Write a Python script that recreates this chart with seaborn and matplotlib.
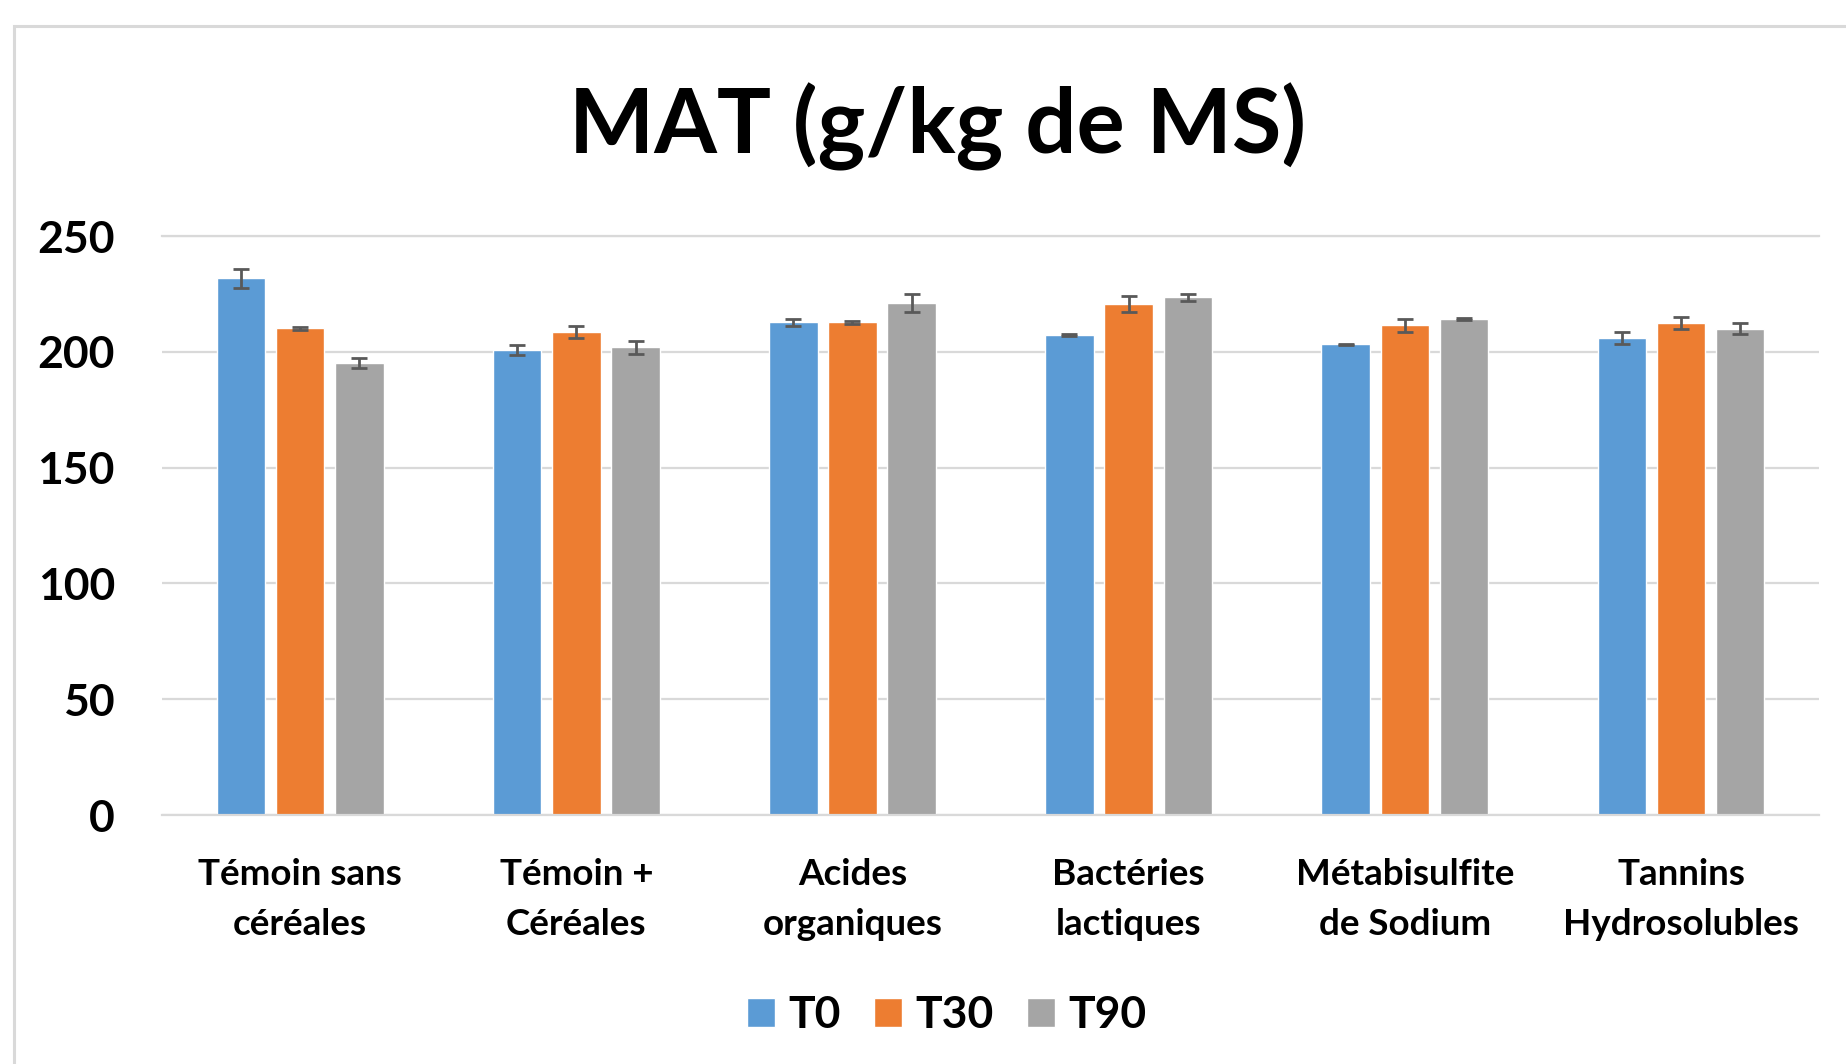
import numpy as np
import pandas as pd
import matplotlib
matplotlib.use("Agg")
import matplotlib.pyplot as plt
from matplotlib.patches import Rectangle
import seaborn as sns

# données
categories = ["Témoin sans\ncéréales", "Témoin +\nCéréales", "Acides\norganiques",
              "Bactéries\nlactiques", "Métabisulfite\nde Sodium", "Tannins\nHydrosolubles"]
periods = ["T0", "T30", "T90"]
t0 = [231.8, 200.7, 212.8, 207.3, 203.3, 206.0]
t30 = [210.2, 208.6, 212.8, 220.8, 211.5, 212.6]
t90 = [195.3, 202.0, 221.0, 223.6, 214.1, 210.1]
err_t0 = [4.0, 2.1, 1.6, 0.5, 0.3, 2.7]
err_t30 = [0.5, 2.7, 0.7, 3.4, 2.7, 2.7]
err_t90 = [2.2, 2.9, 3.9, 1.4, 0.5, 2.2]
yticks = [0, 50, 100, 150, 200, 250]

colors = {"T0": "#5B9BD5", "T30": "#ED7D31", "T90": "#A5A5A5"}
grid_color = "#D9D9D9"

df = pd.DataFrame({
    "Traitement": categories * 3,
    "Temps": [p for p in periods for _ in categories],
    "MAT": t0 + t30 + t90,
})
errs = {"T0": err_t0, "T30": err_t30, "T90": err_t90}

sns.set_style("white")
plt.rcParams['font.family'] = ['Lato', 'DejaVu Sans']
plt.rcParams['font.weight'] = 'bold'
plt.rcParams['text.color'] = 'black'
plt.rcParams['xtick.color'] = 'black'
plt.rcParams['ytick.color'] = 'black'

fig = plt.figure(figsize=(18.46, 10.64), dpi=100)
ax = fig.add_axes([0.0878, 0.234, 0.8976, 0.544])

sns.barplot(data=df, x="Traitement", y="MAT", hue="Temps", order=categories,
            hue_order=periods, palette=colors, width=0.643, gap=0.18,
            saturation=1, errorbar=None, ax=ax, zorder=2)

# barres d'erreur sur les positions des barres dessinées par seaborn
for cont, p in zip(ax.containers, periods):
    xs = [b.get_x() + b.get_width() / 2 for b in cont.patches]
    hs = [b.get_height() for b in cont.patches]
    ax.errorbar(xs, hs, yerr=errs[p], fmt="none", ecolor="#595959",
                elinewidth=2, capsize=6, capthick=2, zorder=3)

ax.set_ylim(0, 250)
ax.set_xlim(-0.5, len(categories) - 0.5)
ax.set_yticks(yticks)
ax.yaxis.grid(True, color=grid_color, linewidth=1.6, zorder=0)
ax.set_axisbelow(True)
for side in ["left", "right"]:
    ax.spines[side].set_visible(False)
for side in ["top", "bottom"]:
    ax.spines[side].set_color(grid_color)
    ax.spines[side].set_linewidth(1.6)
ax.tick_params(axis="both", length=0)
ax.tick_params(axis="y", labelsize=32, pad=34)
ax.tick_params(axis="x", labelsize=26.5, pad=31)
for lab in ax.get_yticklabels():
    lab.set_fontweight("bold")
for lab in ax.get_xticklabels():
    lab.set_fontweight("bold")
    lab.set_linespacing(1.62)
ax.set_xlabel("")
ax.set_ylabel("")

handles, labels = ax.get_legend_handles_labels()
ax.get_legend().remove()
fig.legend(handles, labels, loc="center", bbox_to_anchor=(0.513, 0.046), ncol=3,
           frameon=False, prop={"size": 32, "weight": "bold"},
           handlelength=0.63, handleheight=0.63, handletextpad=0.3,
           columnspacing=0.75)

fig.text(0.508, 0.856, "MAT (g/kg de MS)", ha="center", va="baseline",
         fontsize=65, fontweight="bold")

# cadre gris autour du graphique
fig.patches.append(Rectangle((14 / 1846, -0.05), 1.1, 1 - 26 / 1064 + 0.05,
                             transform=fig.transFigure, fill=False,
                             edgecolor=grid_color, linewidth=2.2))

fig.savefig("out.png", dpi=100)
